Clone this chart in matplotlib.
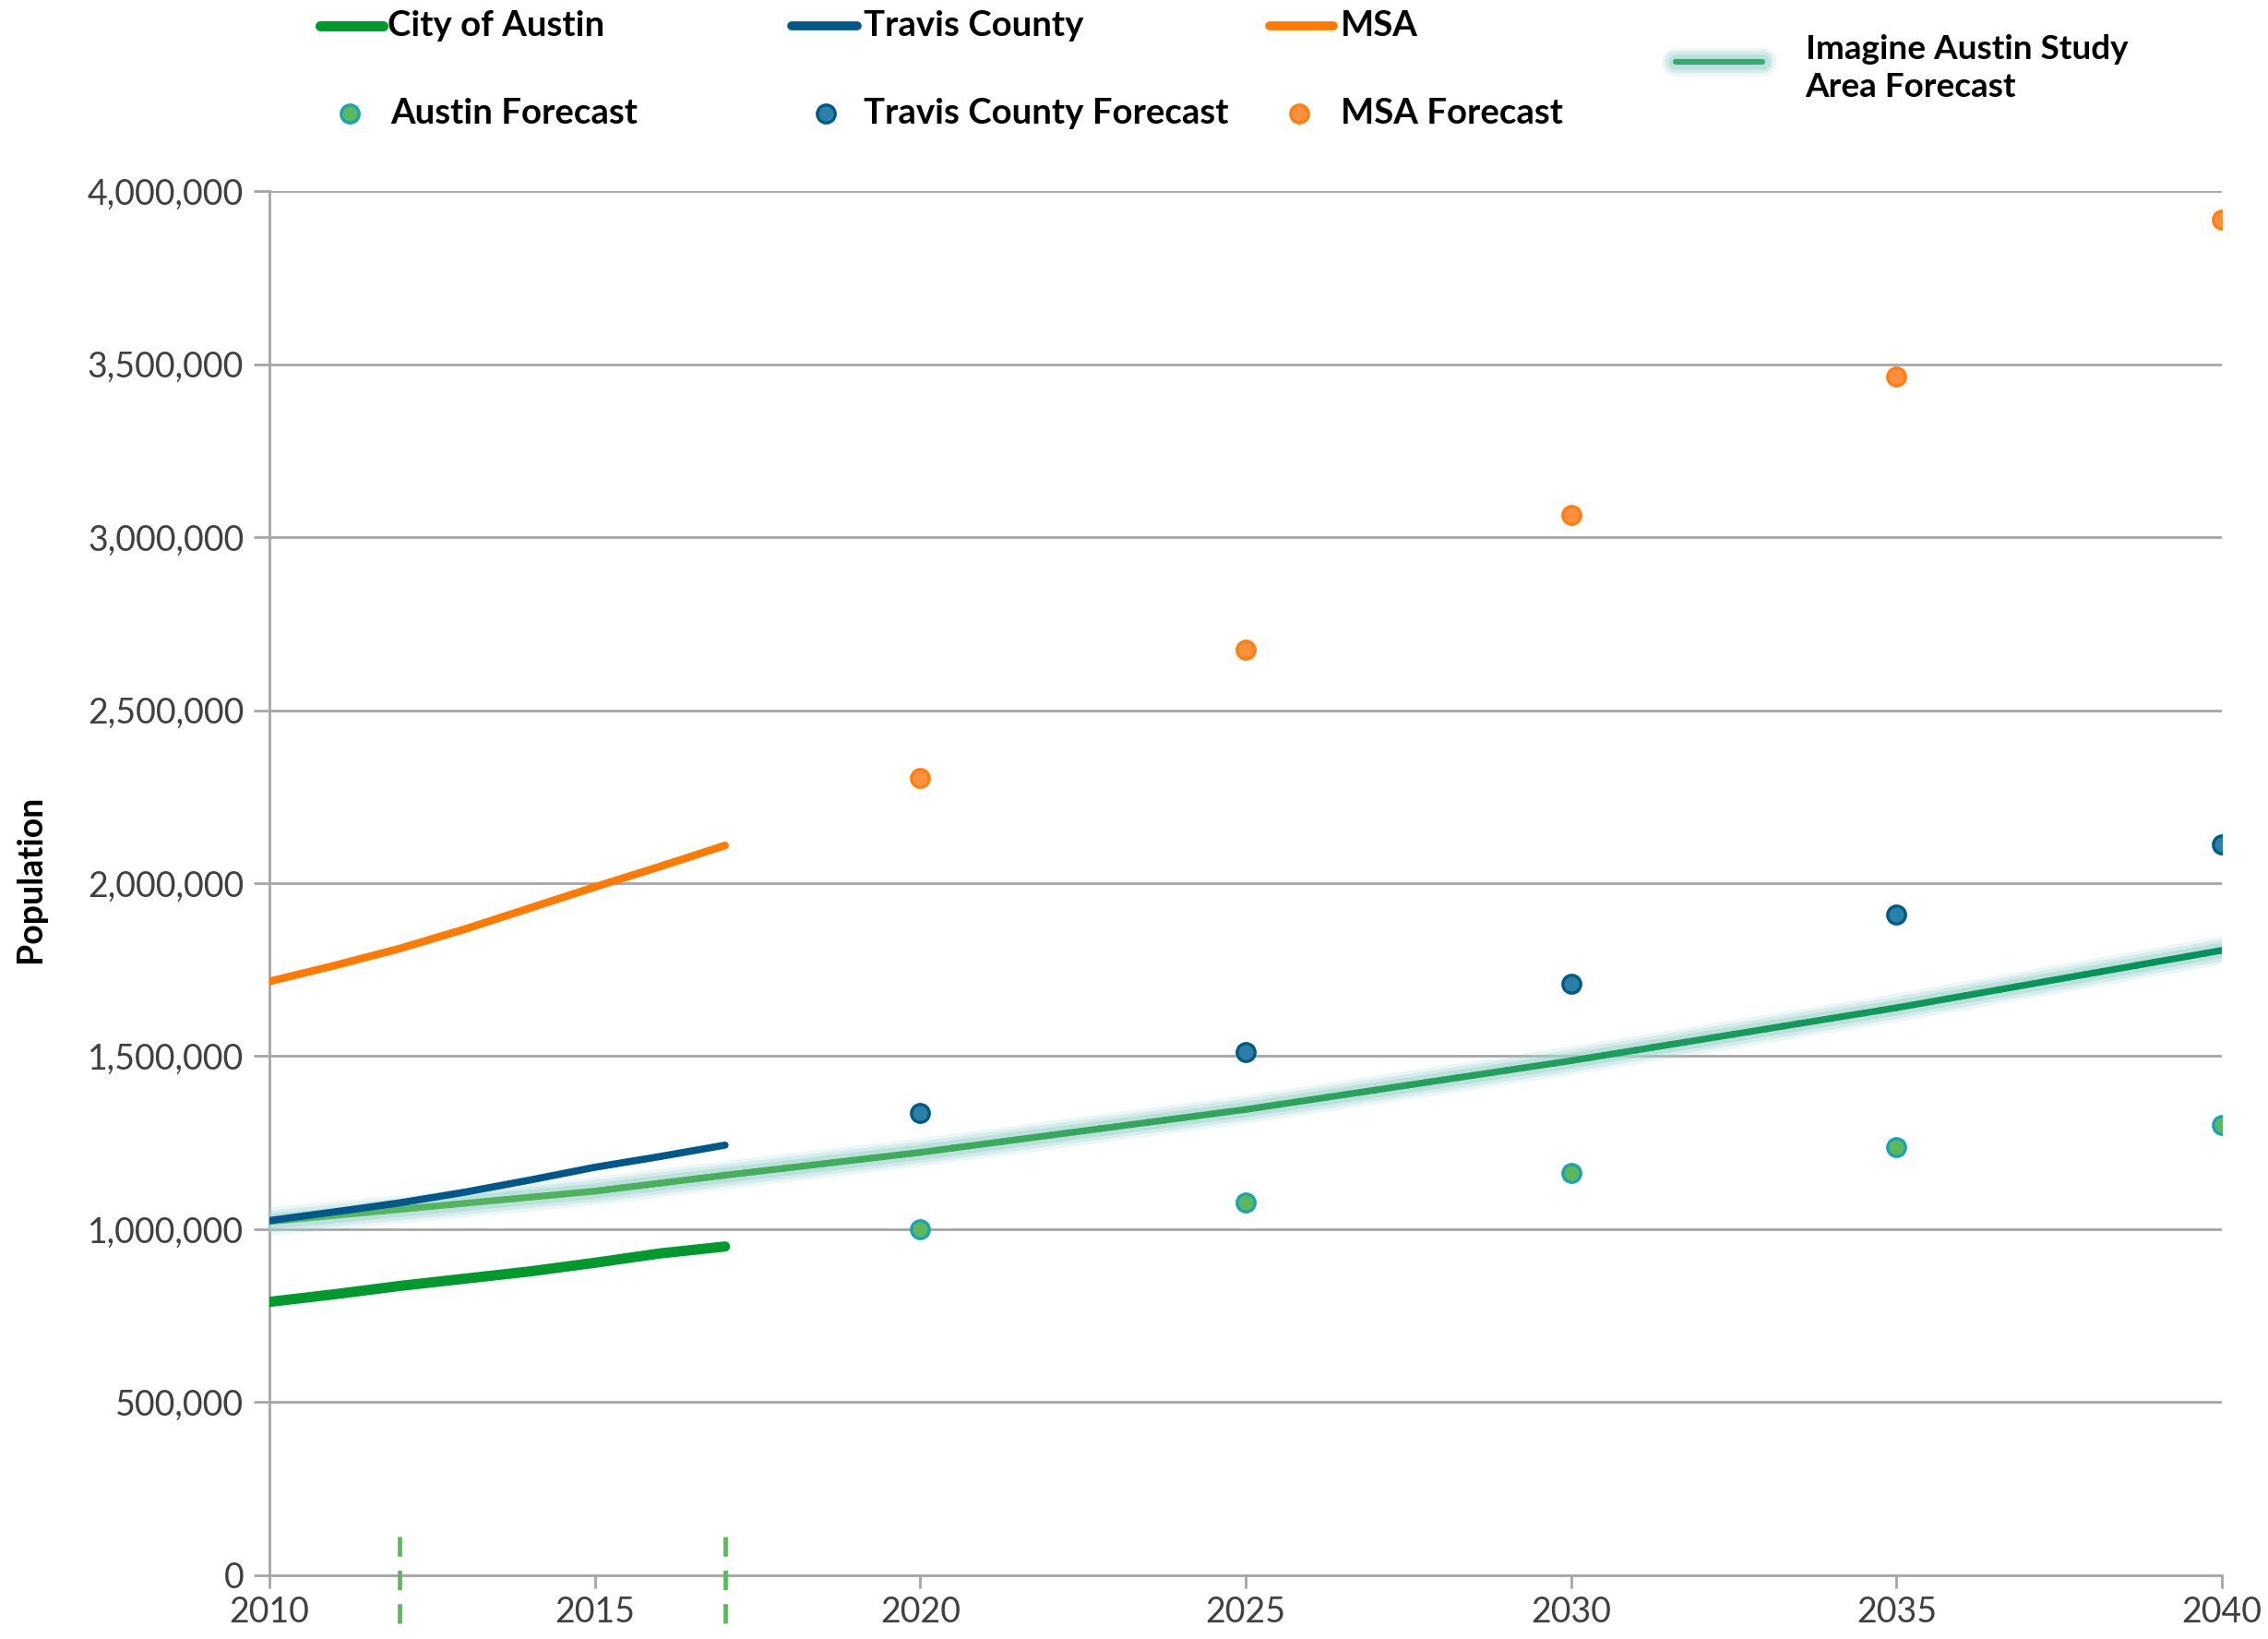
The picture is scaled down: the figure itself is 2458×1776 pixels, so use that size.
import matplotlib
matplotlib.use("Agg")
import matplotlib.pyplot as plt
import numpy as np
from matplotlib.collections import LineCollection
from matplotlib.lines import Line2D
from matplotlib.colors import to_rgb
from matplotlib.ticker import FuncFormatter

plt.rcParams['font.family'] = ['Lato', 'DejaVu Sans']

# historic estimates
hist_years = [2010, 2011, 2012, 2013, 2014, 2015, 2016, 2017]
austin = [790000, 812000, 836000, 857000, 878000, 903000, 930000, 950000]
travis = [1025000, 1050000, 1076000, 1107000, 1142000, 1179000, 1210000, 1243000]
msa = [1716000, 1762000, 1811000, 1867000, 1928000, 1989000, 2048000, 2109000]

# forecasts
fc_years = [2020, 2025, 2030, 2035, 2040]
austin_fc = [1000000, 1078000, 1162000, 1237000, 1300000]
travis_fc = [1337000, 1513000, 1709000, 1910000, 2111000]
msa_fc = [2303000, 2675000, 3064000, 3465000, 3917000]

# Imagine Austin study area forecast
ia_years = [2010, 2015, 2017, 2020, 2025, 2030, 2035, 2040]
ia_pop = [1022000, 1110000, 1156000, 1222000, 1346000, 1487000, 1640000, 1806000]

marker_years = [2012, 2017]

c_austin = '#00992e'
c_travis = '#00578a'
c_msa = '#ff7a00'
c_ia_start = '#5cb85c'
c_ia_end = '#00915a'
c_glow = '#a3d6d3'

fig = plt.figure(figsize=(12.29, 8.88), dpi=200)
ax = fig.add_axes([0.1188, 0.0389, 0.8609, 0.8445])

# glow under the study area line
for lw, a in [(11, 0.2), (8.5, 0.3), (6, 0.5)]:
    ax.plot(ia_years, ia_pop, color=c_glow, lw=lw, alpha=a, solid_capstyle='round',
            solid_joinstyle='round', zorder=3)

# gradient study area line
xs, ys = [], []
for i in range(len(ia_years) - 1):
    t = np.linspace(0, 1, 20, endpoint=(i == len(ia_years) - 2))
    xs.extend(ia_years[i] + t * (ia_years[i + 1] - ia_years[i]))
    ys.extend(ia_pop[i] + t * (ia_pop[i + 1] - ia_pop[i]))
xs = np.array(xs)
ys = np.array(ys)
pts = np.column_stack([xs, ys]).reshape(-1, 1, 2)
segs = np.concatenate([pts[:-1], pts[1:]], axis=1)
f = (xs[:-1] - 2010) / 30.0
c0, c1 = np.array(to_rgb(c_ia_start)), np.array(to_rgb(c_ia_end))
cols = c0[None, :] * (1 - f[:, None]) + c1[None, :] * f[:, None]
ax.add_collection(LineCollection(segs, colors=cols, linewidths=2.6, zorder=4,
                                 capstyle='round', joinstyle='round'))

ax.plot(hist_years, msa, color=c_msa, lw=3.0, solid_capstyle='round', zorder=5)
ax.plot(hist_years, travis, color=c_travis, lw=2.8, solid_capstyle='round', zorder=5)
ax.plot(hist_years, austin, color=c_austin, lw=4.0, solid_capstyle='round', zorder=5)

mk_austin = dict(marker='o', ls='none', ms=7, mfc='#5cb85c', mec='#1aa3b5', mew=1.2)
mk_travis = dict(marker='o', ls='none', ms=7, mfc='#2b80a8', mec='#005a87', mew=1.2)
mk_msa = dict(marker='o', ls='none', ms=7, mfc='#ff9040', mec='#ff7f10', mew=1.2)
ax.plot(fc_years, austin_fc, zorder=6, **mk_austin)
ax.plot(fc_years, travis_fc, zorder=6, **mk_travis)
ax.plot(fc_years, msa_fc, zorder=6, **mk_msa)

for yr in marker_years:
    ax.plot([yr, yr], [113000, -155000], color='#5cb85c', lw=1.7,
            dashes=(4.5, 3.2), clip_on=False, zorder=7)

ax.set_xlim(2010, 2040)
ax.set_ylim(0, 4000000)
ax.set_xticks([2010, 2015, 2020, 2025, 2030, 2035, 2040])
ax.set_yticks(np.arange(0, 4000001, 500000))
ax.yaxis.set_major_formatter(FuncFormatter(lambda v, p: f'{int(v):,}'))
ax.grid(axis='y', color='#a6a6a6', lw=1.0)
ax.set_axisbelow(True)
for s in ['top', 'right']:
    ax.spines[s].set_visible(False)
for s in ['left', 'bottom']:
    ax.spines[s].set_color('#a6a6a6')
    ax.spines[s].set_linewidth(1.0)
ax.tick_params(axis='y', length=6, width=1.0, color='#a6a6a6', labelsize=13.5,
               labelcolor='#404040', pad=4)
ax.tick_params(axis='x', length=5, width=1.0, color='#a6a6a6', labelsize=13.5,
               labelcolor='#404040', pad=3)
ax.set_ylabel('Population', fontsize=13.5, fontweight='bold')
ax.yaxis.set_label_coords(-0.1143, 0.503)

# legend, laid out by hand
def leg_line(x0, x1, y, color, lw):
    fig.add_artist(Line2D([x0, x1], [y, y], transform=fig.transFigure, color=color,
                          lw=lw, solid_capstyle='round'))

def leg_text(x, y, s):
    fig.text(x, y, s, fontsize=13.8, fontweight='bold', va='center', ha='left', color='black')

r1, r2 = 0.984, 0.931
leg_line(0.141, 0.169, r1, c_austin, 4.0)
leg_text(0.171, r1, 'City of Austin')
leg_line(0.349, 0.378, r1, c_travis, 3.5)
leg_text(0.381, r1, 'Travis County')
leg_line(0.560, 0.588, r1, c_msa, 3.5)
leg_text(0.591, r1, 'MSA')

for x, mk in [(0.154, mk_austin), (0.364, mk_travis), (0.573, mk_msa)]:
    fig.add_artist(Line2D([x], [r2], transform=fig.transFigure, **mk))
leg_text(0.172, r2, 'Austin Forecast')
leg_text(0.381, r2, 'Travis County Forecast')
leg_text(0.591, r2, 'MSA Forecast')

for lw, a in [(11, 0.2), (8.5, 0.3), (6, 0.5)]:
    fig.add_artist(Line2D([0.739, 0.777], [0.962, 0.962], transform=fig.transFigure,
                          color=c_glow, lw=lw, alpha=a, solid_capstyle='round'))
leg_line(0.739, 0.777, 0.962, '#3aa870', 2.2)
fig.text(0.796, 0.9585, 'Imagine Austin Study\nArea Forecast', fontsize=13.3,
         fontweight='bold', va='center', ha='left', linespacing=1.3)

fig.savefig('out.png', dpi=200)
